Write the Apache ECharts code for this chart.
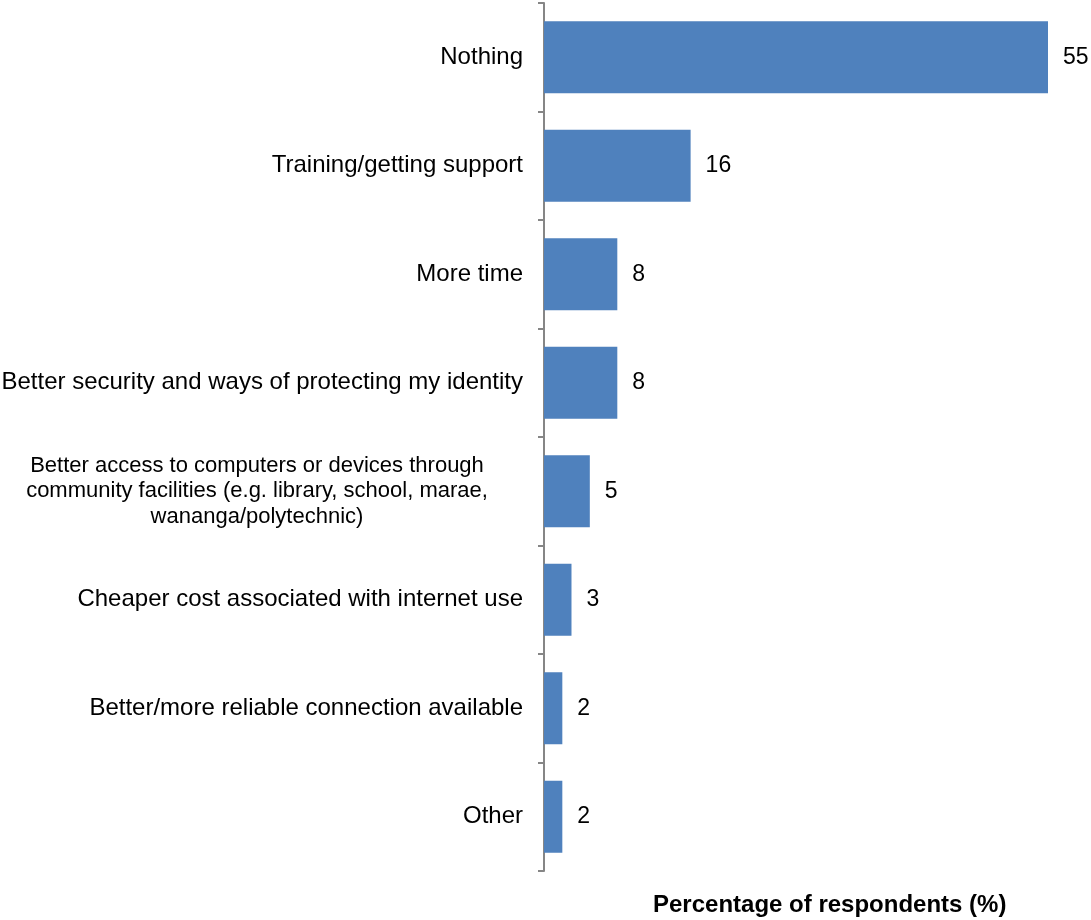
<!DOCTYPE html>
<html>
<head>
<meta charset="utf-8">
<script src="https://cdn.jsdelivr.net/npm/echarts@6/dist/echarts.min.js"></script>
<style>
  html, body { margin: 0; padding: 0; background: #fff; }
  #chart { width: 1091px; height: 920px; }
</style>
</head>
<body>
<div id="chart"></div>
<script>
// categories, top to bottom
const categories = [
  'Nothing',
  'Training/getting support',
  'More time',
  'Better security and ways of protecting my identity',
  'Better access to computers or devices through\ncommunity facilities (e.g. library, school, marae,\nwananga/polytechnic)',
  'Cheaper cost associated with internet use',
  'Better/more reliable connection available',
  'Other'
]
const values = [55, 16, 8, 8, 5, 3, 2, 2]
const axisTitle = 'Percentage of respondents (%)'

const chart = echarts.init(document.getElementById('chart'))

chart.setOption({
  animation: false,
  textStyle: { fontFamily: 'Liberation Sans, Arial, sans-serif' },
  grid: { left: 544, right: 43, top: 3, bottom: 49, outerBoundsMode: 'none', containLabel: false },
  xAxis: {
    type: 'value',
    min: 0,
    max: 55,
    axisLine: { show: false },
    axisTick: { show: false },
    axisLabel: { show: false },
    splitLine: { show: false }
  },
  yAxis: {
    type: 'category',
    inverse: true,
    data: categories,
    axisLine: { show: true, lineStyle: { color: '#868686', width: 2 } },
    axisTick: { show: true, length: 6, lineStyle: { color: '#868686', width: 2 } },
    axisLabel: {
      margin: 21,
      color: '#000',
      fontSize: 24,
      lineHeight: 26,
      // wrapped labels are centred within their block, like the original
      formatter(v) {
        return v.includes('\n') ? '{w|' + v + '}' : v
      },
      rich: {
        w: { width: 532, align: 'center', fontSize: 22, lineHeight: 25.5, color: '#000' }
      }
    }
  },
  series: [
    {
      type: 'bar',
      data: values,
      barWidth: 72,
      itemStyle: { color: '#4F81BD' },
      label: {
        show: true,
        position: 'right',
        distance: 15,
        color: '#000',
        fontSize: 23
      }
    }
  ],
  graphic: [
    {
      type: 'text',
      left: 653,
      top: 893,
      style: {
        text: axisTitle,
        fill: '#000',
        font: 'bold 24px Liberation Sans, Arial, sans-serif'
      }
    }
  ]
})
</script>
</body>
</html>
